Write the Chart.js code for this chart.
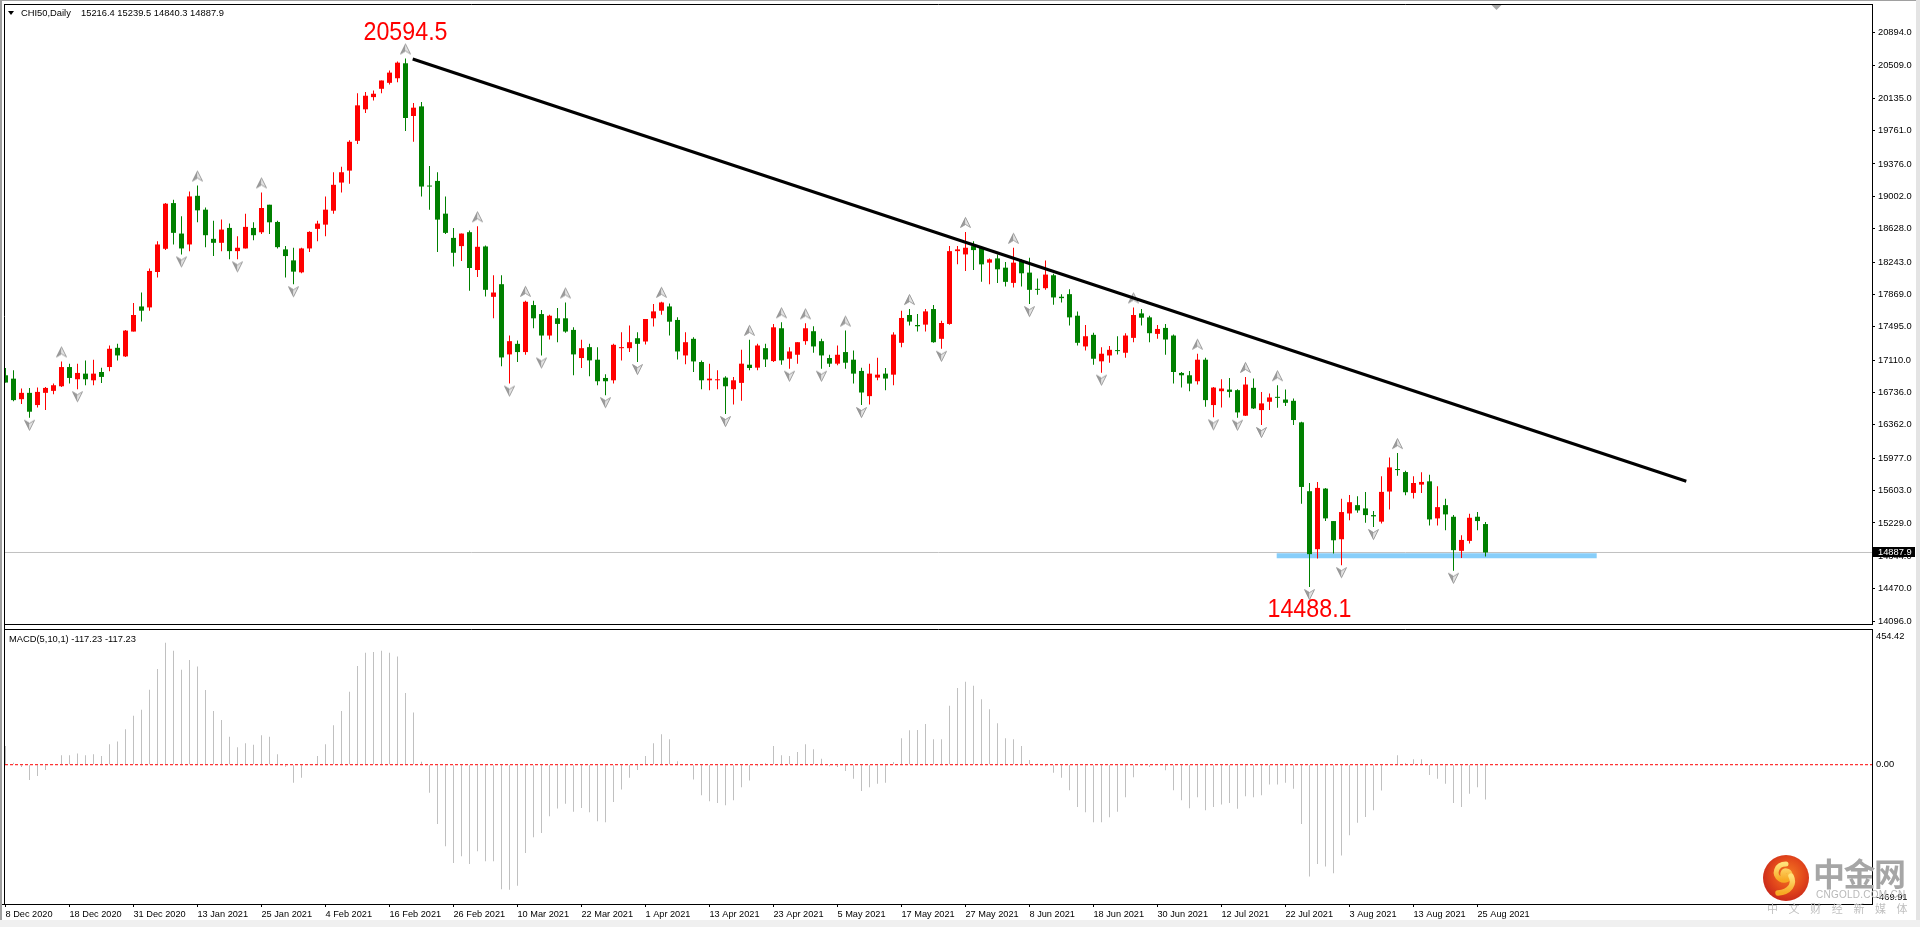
<!DOCTYPE html>
<html lang="zh">
<head>
<meta charset="utf-8">
<title>CHI50,Daily</title>
<script src="https://cdn.jsdelivr.net/npm/chart.js@4.4.1/dist/chart.umd.min.js"></script>
<style>
html,body{margin:0;padding:0;background:#fff;}
body{position:relative;width:1920px;height:927px;overflow:hidden;font-family:"Liberation Sans",Arial,sans-serif;}
canvas{position:absolute;left:0;display:block;}
#mainCv{top:0;}
#macdCv{top:629px;}
.edge{position:absolute;background:#a0a0a0;}
#bandBottom{position:absolute;left:0;top:920px;width:1920px;height:7px;background:#f0f0f0;}
.txt{position:absolute;font-size:9.35px;line-height:10px;color:#000;white-space:pre;}
#tri{position:absolute;left:8px;top:11px;width:0;height:0;border-left:3.5px solid transparent;border-right:3.5px solid transparent;border-top:4px solid #000;}
#wm{position:absolute;left:1750px;top:845px;width:170px;height:80px;pointer-events:none;}
#wmLogo{position:absolute;left:13px;top:10px;}
#wmCn{position:absolute;left:63px;top:11px;font-family:"Noto Sans CJK SC",sans-serif;font-weight:700;font-size:32px;line-height:32px;color:#a6a6a6;letter-spacing:-1.5px;white-space:nowrap;}
#wmEn{position:absolute;left:66px;top:45px;font-size:10px;line-height:10px;color:#b8b8b8;letter-spacing:0.25px;white-space:nowrap;}
#wmSub{position:absolute;left:17px;top:58px;font-family:"Noto Sans CJK SC",sans-serif;font-size:11px;line-height:11px;color:#c0c0c0;letter-spacing:10.6px;white-space:nowrap;}
</style>
</head>
<body>
<canvas id="mainCv" width="1920" height="629"></canvas>
<canvas id="macdCv" width="1920" height="298"></canvas>
<div class="edge" style="left:0;top:0;width:1920px;height:1px;"></div>
<div class="edge" style="left:0;top:0;width:2px;height:927px;"></div>
<div class="edge" style="left:1916px;top:0;width:4px;height:927px;background:#e4e4e4;"></div>
<div id="bandBottom"></div>
<div id="tri"></div>
<div class="txt" id="sym" style="left:21px;top:8px;"></div>
<div class="txt" id="hdr" style="left:81px;top:8px;"></div>
<div class="txt" id="macdTitle" style="left:9px;top:634px;"></div>
<div id="wm">
  <svg id="wmLogo" width="46" height="46" viewBox="0 0 46 46">
    <defs>
      <radialGradient id="lg" cx="55%" cy="42%" r="60%"><stop offset="0" stop-color="#f47a22"/><stop offset="0.6" stop-color="#e2471b"/><stop offset="1" stop-color="#c9281a"/></radialGradient>
      <linearGradient id="sw" x1="0" y1="0" x2="0" y2="1"><stop offset="0" stop-color="#ffe27a"/><stop offset="1" stop-color="#f7a823"/></linearGradient>
    </defs>
    <circle cx="23" cy="23" r="23" fill="url(#lg)"/>
    <path d="M23 9 C13 9 10 20 17 24 C22 27 28 24 27 19 C26 15 21 15 20 18 C19 21 22 22 23 21" stroke="url(#sw)" stroke-width="5" fill="none" stroke-linecap="round"/>
    <path d="M28 21 C32 29 27 37 15 38" stroke="url(#sw)" stroke-width="5.5" fill="none" stroke-linecap="round"/>
  </svg>
  <div id="wmCn">中金网</div>
  <div id="wmEn">CNGOLD.COM.CN</div>
  <div id="wmSub">中文财经新媒体</div>
</div>
<script>
// ---------------- data ----------------
const symbolName = 'CHI50,Daily';
const xTickLabels = ['8 Dec 2020','18 Dec 2020','31 Dec 2020','13 Jan 2021','25 Jan 2021','4 Feb 2021','16 Feb 2021','26 Feb 2021','10 Mar 2021','22 Mar 2021','1 Apr 2021','13 Apr 2021','23 Apr 2021','5 May 2021','17 May 2021','27 May 2021','8 Jun 2021','18 Jun 2021','30 Jun 2021','12 Jul 2021','22 Jul 2021','3 Aug 2021','13 Aug 2021','25 Aug 2021'];
const barsPerLabel = 8;
const yTicks = [14096,14470,14844,15229,15603,15977,16362,16736,17110,17495,17869,18243,18628,19002,19376,19761,20135,20509,20894];
const priceRange = [14062, 21212];
const macdRange = [-469.91, 454.42];

const open = [16935,16896,16659,16732,16591,16732,16755,16808,17030,16889,
16954,16877,16973,17030,17252,17153,17440,17730,17719,18128,
18396,18924,18572,18446,19008,18848,18511,18465,18637,18369,
18400,18637,18587,18905,18706,18389,18262,18124,18400,18626,
18675,18836,19161,19299,19643,20007,20148,20244,20313,20366,
20539,19930,20041,19123,19180,18802,18522,18427,18588,18151,
18423,17841,17987,17176,17298,17203,17746,17642,17394,17593,
17593,17459,17134,17260,17115,16904,16877,17248,17248,17363,
17325,17593,17681,17730,17574,17164,17356,17088,16877,16877,
16908,16774,16847,17057,17023,17248,17099,17478,17126,17172,
17329,17444,17329,17134,17069,17203,17115,16985,16694,16908,
16954,16942,17310,17631,17516,17520,17700,17356,17528,18369,
18331,18427,18408,18236,18285,18178,18002,18255,18121,17930,
17941,18090,17842,17872,17623,17268,17402,17096,17164,17222,
17195,17367,17650,17604,17413,17482,17394,16962,16935,16866,
17115,16591,16751,16770,16763,16468,16790,16533,16629,16686,
16655,16640,16391,15596,14926,15626,15251,15041,15339,15435,
15397,15320,15244,15592,15852,15817,15576,15672,15710,15282,
15435,15301,14907,15022,15301,15216.4];
const high = [17019,16992,16782,16789,16793,16801,16839,17095,17069,17069,
17107,17115,17023,17279,17298,17459,17769,17891,18167,18484,
18924,18962,18771,19058,19127,18874,18721,18733,18687,18542,
18802,18702,19047,18905,18721,18427,18408,18408,18599,18721,
19001,19280,19345,19651,20194,20206,20225,20340,20454,20558,
20594.5,20079,20091,19353,19280,19001,18637,18572,18607,18656,
18434,18090,18090,17394,17336,17795,17795,17688,17635,17711,
17776,17490,17344,17298,17260,16946,17298,17432,17509,17432,
17585,17757,17784,17765,17604,17432,17374,17107,17069,16992,
16923,16916,17229,17344,17298,17298,17528,17547,17260,17317,
17535,17501,17356,17172,17279,17451,17222,17023,17069,17138,
17019,17432,17681,17700,17643,17700,17746,17566,18427,18427,
18591,18484,18427,18285,18331,18243,18408,18274,18293,18052,
18262,18109,17872,17930,17673,17516,17425,17260,17272,17386,
17421,17719,17700,17623,17516,17528,17405,16973,16985,17184,
17138,16801,16889,16904,16774,16916,16897,16743,16724,16820,
16770,16667,16399,15691,15703,15634,15251,15508,15553,15538,
15588,15366,15768,15986,16036,15833,15768,15814,15787,15653,
15508,15320,15087,15335,15355,15239.5];
const low = [16851,16636,16602,16445,16564,16533,16717,16801,16839,16774,
16820,16820,16847,16981,17107,17145,17440,17555,17681,18063,
18381,18446,18331,18369,18702,18415,18312,18369,18274,18274,
18400,18496,18568,18568,18400,18063,17987,18113,18358,18484,
18542,18802,19047,19146,19605,19965,20110,20194,20294,20320,
19758,19632,19001,18848,18358,18568,18190,18255,17910,18071,
17845,17593,17038,16839,17088,17172,17478,17164,17348,17317,
17425,16935,17019,16923,16820,16705,16839,17107,17203,17088,
17290,17497,17635,17394,17118,17061,16973,16774,16763,16774,
16487,16598,16640,16992,16992,17030,17088,17057,17011,17069,
17287,17195,17011,17030,17050,17011,16839,16591,16598,16877,
16763,16820,17260,17509,17440,17440,17310,17241,17520,18216,
18140,18151,18014,17987,18002,17960,17949,17960,17757,17864,
17922,17750,17776,17509,17279,17222,17057,16965,17080,17176,
17138,17317,17509,17317,17356,17172,16839,16793,16751,16828,
16571,16449,16564,16679,16445,16464,16545,16361,16533,16560,
16579,16361,15450,14488.1,14819,15251,14876,14742,15259,15347,
15232,15182,15224,15385,15775,15550,15511,15576,15201,15201,
15144,14677,14823,14991,15144,14840.3];
const close = [16851,16648,16732,16514,16743,16789,16820,17030,16904,16962,
16889,16954,16916,17241,17164,17451,17631,17681,18140,18446,
18917,18580,18400,19001,18840,18553,18465,18618,18369,18408,
18649,18553,18867,18702,18415,18312,18132,18400,18591,18687,
18848,19135,19280,19632,20053,20164,20187,20340,20431,20546,
19907,20026,19115,19115,18733,18580,18350,18572,18174,18419,
17922,17891,17141,17329,17203,17784,17593,17394,17623,17528,
17440,17176,17248,17107,16866,16866,17287,17260,17317,17298,
17585,17673,17776,17554,17210,17317,17095,16877,16896,16889,
16808,16877,17069,17019,17279,17118,17489,17107,17210,17317,
17478,17268,17164,17069,17172,17080,16954,16736,16954,16942,
16897,17405,17597,17555,17501,17673,17317,17539,18369,18389,
18408,18381,18216,18274,18159,18014,18236,18113,17922,17922,
18098,17834,17826,17604,17310,17386,17126,17184,17229,17214,
17394,17631,17600,17421,17470,17348,16973,16935,16839,17115,
16648,16793,16782,16743,16506,16828,16552,16610,16679,16674,
16617,16418,15645,14869,15634,15282,15029,15355,15469,15374,
15320,15305,15588,15871,15840,15584,15691,15703,15270,15412,
15328,14915,15033,15289,15251,14887.9];
const macd = [63,7,-8,-52,-38,-18,2,32,32,38,
32,35,29,69,78,120,165,185,253,323,
411,384,320,353,331,252,181,151,94,59,
72,67,99,94,35,-7,-61,-44,2,29,
69,133,181,246,333,378,380,384,378,365,
242,176,10,-95,-200,-275,-332,-309,-335,-292,
-326,-326,-420,-422,-408,-298,-245,-230,-174,-148,
-132,-159,-146,-160,-191,-194,-126,-84,-44,-18,
29,72,103,86,12,-3,-50,-103,-123,-129,
-137,-120,-76,-53,-5,5,63,32,29,43,
69,52,20,-5,-8,-21,-47,-89,-76,-64,
-61,9,89,116,117,137,86,86,199,259,
280,266,221,187,140,89,86,63,16,3,
-5,-27,-44,-86,-143,-160,-194,-194,-177,-159,
-110,-42,-3,-8,-2,-19,-86,-120,-147,-110,
-154,-143,-134,-129,-149,-106,-110,-103,-67,-67,
-61,-81,-200,-377,-335,-343,-366,-306,-238,-196,
-176,-154,-87,0,32,5,18,18,-35,-47,
-64,-129,-143,-98,-76,-117.23];
const fractalUp = [7,24,32,50,59,65,70,82,93,97,100,105,113,120,126,141,149,155,159,174];
const fractalDown = [3,9,22,29,36,63,67,75,79,90,98,102,107,117,128,137,151,154,157,163,167,171,181];
const trendX = [50.9, 210.1];
const trendY = [20588, 15711];
const supportX = [158.9, 198.9];
const supportLevel = 14850;

// ---------------- layout / style ----------------
Chart.defaults.font.family = '"Liberation Sans", Arial, sans-serif';
const UP_COLOR = '#ff0000', DOWN_COLOR = '#008000';
const N = close.length;
const idx = close.map((_, i) => i);
const X_MIN = -0.0625, X_MAX = 233.3125;      // 8 px per bar
const MACD_PANEL_H = 274;
const SMALL_FONT = {size: 9.3, family: '"Liberation Sans", Arial, sans-serif'};

document.getElementById('sym').textContent = symbolName;
document.getElementById('hdr').textContent = [open[N-1], high[N-1], low[N-1], close[N-1]].map(v => v.toFixed(1)).join(' ');
document.getElementById('macdTitle').textContent = 'MACD(5,10,1) ' + macd[N-1].toFixed(2) + ' ' + macd[N-1].toFixed(2);

function arrowImage(up) {
  const c = document.createElement('canvas');
  c.width = 13; c.height = 40;
  const g = c.getContext('2d');
  g.translate(6.5, up ? 10.5 : 27.5);
  if (!up) g.scale(1, -1);
  g.beginPath(); g.moveTo(0, -5); g.lineTo(0, 2); g.lineTo(-5, 5); g.closePath();
  g.fillStyle = '#9c9c9c'; g.fill();
  g.beginPath(); g.moveTo(0, -5); g.lineTo(5, 5); g.lineTo(0, 2); g.closePath();
  g.fillStyle = '#e4e4e4'; g.fill();
  g.beginPath(); g.moveTo(0, -5); g.lineTo(5, 5); g.lineTo(0, 2); g.lineTo(-5, 5); g.closePath();
  g.strokeStyle = '#8a8a8a'; g.lineWidth = 0.8; g.stroke();
  return c;
}
const arrowUp = arrowImage(true), arrowDown = arrowImage(false);
const colorOf = i => close[i] >= open[i] ? UP_COLOR : DOWN_COLOR;

const candleCommon = {type: 'bar', grouped: false, inflateAmount: 0, minBarLength: 1, borderWidth: 0};

function drawScaledText(ctx, t, x, y, sx) {
  ctx.save(); ctx.translate(x, y); ctx.scale(sx, 1); ctx.fillText(t, 0, 0); ctx.restore();
}

const mainOverlay = {
  id: 'mainOverlay',
  afterDraw(chart) {
    const {ctx, chartArea: a, scales: {x, y}} = chart;
    ctx.save();
    ctx.strokeStyle = '#000'; ctx.lineWidth = 1;
    ctx.beginPath();
    ctx.moveTo(4, a.top - 0.5); ctx.lineTo(a.right + 1, a.top - 0.5);
    ctx.moveTo(a.left - 0.5, a.top - 1); ctx.lineTo(a.left - 0.5, chart.height);
    ctx.moveTo(4, a.bottom + 0.5); ctx.lineTo(a.right, a.bottom + 0.5);
    ctx.stroke();
    ctx.fillStyle = '#ff0000';
    ctx.font = '25px "Liberation Sans", Arial, sans-serif';
    ctx.textAlign = 'center'; ctx.textBaseline = 'alphabetic';
    const iPeak = high.indexOf(Math.max(...high));
    const iLow = low.indexOf(Math.min(...low));
    drawScaledText(ctx, high[iPeak].toFixed(1), x.getPixelForValue(iPeak), y.getPixelForValue(high[iPeak]) - 18, 0.93);
    drawScaledText(ctx, low[iLow].toFixed(1), x.getPixelForValue(iLow), y.getPixelForValue(low[iLow]) + 30, 0.93);
    const sx = Math.round(x.getPixelForValue(N + 0.3)) + 0.5;
    ctx.fillStyle = '#a8a8a8';
    ctx.beginPath(); ctx.moveTo(sx - 5, a.top); ctx.lineTo(sx + 5, a.top); ctx.lineTo(sx, a.top + 5); ctx.closePath(); ctx.fill();
    const py = Math.round(y.getPixelForValue(close[N-1]));
    ctx.fillStyle = '#000';
    ctx.fillRect(a.right + 1, py - 5, 42, 10);
    ctx.fillStyle = '#fff';
    ctx.font = '9.3px "Liberation Sans", Arial, sans-serif';
    ctx.textAlign = 'left'; ctx.textBaseline = 'middle';
    ctx.fillText(close[N-1].toFixed(1), a.right + 6, py + 0.5);
    ctx.restore();
  }
};

const macdOverlay = {
  id: 'macdOverlay',
  afterDraw(chart) {
    const {ctx, chartArea: a} = chart;
    ctx.save();
    ctx.strokeStyle = '#000'; ctx.lineWidth = 1;
    ctx.beginPath();
    ctx.moveTo(4, a.top - 0.5); ctx.lineTo(a.right + 1, a.top - 0.5);
    ctx.moveTo(a.left - 0.5, 0); ctx.lineTo(a.left - 0.5, a.bottom + 1);
    ctx.moveTo(0, a.bottom + 0.5); ctx.lineTo(a.left, a.bottom + 0.5);
    ctx.stroke();
    ctx.restore();
  }
};

// ---------------- main price chart ----------------
new Chart(document.getElementById('mainCv'), {
  type: 'bar',
  data: {
    datasets: [
      Object.assign({}, candleCommon, {label: 'wick', data: idx.map(i => ({x: i, y: [low[i], high[i]]})), barThickness: 1, backgroundColor: idx.map(colorOf), order: 4}),
      Object.assign({}, candleCommon, {label: 'body', data: idx.map(i => ({x: i, y: [open[i], close[i]]})), barThickness: 5, backgroundColor: idx.map(colorOf), order: 3}),
      {type: 'line', label: 'bid', data: [{x: X_MIN, y: close[N-1]}, {x: X_MAX, y: close[N-1]}], borderColor: '#c0c0c0', borderWidth: 1, pointRadius: 0, order: 7},
      {type: 'line', label: 'support', data: supportX.map(v => ({x: v, y: supportLevel})), borderColor: '#87cefa', borderWidth: 5, borderCapStyle: 'butt', pointRadius: 0, order: 6},
      {type: 'line', label: 'trend', data: trendX.map((v, k) => ({x: v, y: trendY[k]})), borderColor: '#000000', borderWidth: 3, pointRadius: 0, order: 0},
      {type: 'scatter', label: 'fractal up', data: fractalUp.map(i => ({x: i, y: high[i]})), pointStyle: arrowUp, pointRadius: 3, order: 1},
      {type: 'scatter', label: 'fractal down', data: fractalDown.map(i => ({x: i, y: low[i]})), pointStyle: arrowDown, pointRadius: 3, order: 1}
    ]
  },
  options: {
    responsive: false, animation: false, devicePixelRatio: 1, events: [],
    layout: {padding: {left: 5, top: 4, right: 0, bottom: 2}},
    plugins: {legend: {display: false}, tooltip: {enabled: false}},
    scales: {
      x: {type: 'linear', display: false, min: X_MIN, max: X_MAX, offset: false, bounds: 'data', grid: {offset: false}},
      y: {
        position: 'right', min: priceRange[0], max: priceRange[1], bounds: 'data', beginAtZero: false,
        afterFit: s => { s.width = 48; s.paddingTop = 0; s.paddingBottom = 0; },
        afterBuildTicks: s => { s.ticks = yTicks.map(v => ({value: v})); },
        ticks: {autoSkip: false, color: '#000', font: SMALL_FONT, padding: 3, callback: v => Number(v).toFixed(1)},
        grid: {drawOnChartArea: false, drawTicks: true, tickLength: 3, color: '#000'},
        border: {display: true, color: '#000', width: 1}
      }
    }
  },
  plugins: [mainOverlay]
});

// ---------------- MACD chart ----------------
const macdAxisLabels = [macdRange[0].toFixed(2), '0.00', macdRange[1].toFixed(2)];
new Chart(document.getElementById('macdCv'), {
  type: 'bar',
  data: {
    datasets: [
      {type: 'bar', label: 'MACD', data: idx.map(i => ({x: i, y: macd[i]})), barThickness: 1, backgroundColor: '#c0c0c0', grouped: false, inflateAmount: 0, borderWidth: 0, order: 2},
      {type: 'line', label: 'level 0', data: [{x: X_MIN, y: 0}, {x: X_MAX, y: 0}], borderColor: '#ff0000', borderWidth: 1, borderDash: [3, 2], pointRadius: 0, order: 1}
    ]
  },
  options: {
    responsive: false, animation: false, devicePixelRatio: 1, events: [],
    layout: {padding: {left: 5, top: 1, right: 0, bottom: 5}},
    plugins: {legend: {display: false}, tooltip: {enabled: false}},
    scales: {
      x: {
        type: 'linear', min: X_MIN, max: X_MAX, offset: false, bounds: 'data',
        afterBuildTicks: s => { s.ticks = xTickLabels.map((_, k) => ({value: k * barsPerLabel})); },
        afterFit: s => { s.height = 18; s.paddingLeft = 0; s.paddingRight = 0; },
        ticks: {autoSkip: false, maxRotation: 0, minRotation: 0, align: 'start', padding: 2, color: '#000', font: {size: 9.2}, callback: (v, k) => xTickLabels[k]},
        grid: {drawOnChartArea: false, drawTicks: true, tickLength: 3, color: '#000', offset: false},
        border: {display: true, color: '#000', width: 1}
      },
      y: {
        position: 'right', min: macdRange[0], max: macdRange[1], bounds: 'data', beginAtZero: false,
        afterFit: s => { s.width = 48; s.paddingTop = 0; s.paddingBottom = 0; },
        afterBuildTicks: s => {
          const per = (macdRange[1] - macdRange[0]) / MACD_PANEL_H;
          s.ticks = [{value: macdRange[0] + 7 * per}, {value: 0}, {value: macdRange[1] - 6 * per}];
        },
        ticks: {autoSkip: false, color: '#000', font: SMALL_FONT, padding: 4, callback: (v, k) => macdAxisLabels[k]},
        grid: {drawOnChartArea: false, drawTicks: false, color: '#000'},
        border: {display: true, color: '#000', width: 1}
      }
    }
  },
  plugins: [macdOverlay]
});
</script>
</body>
</html>
